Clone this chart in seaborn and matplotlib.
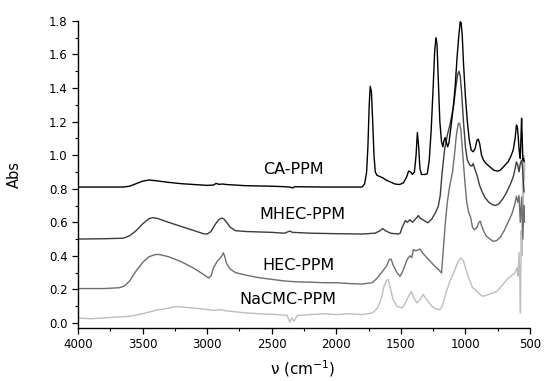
import numpy as np
import pandas as pd
import matplotlib.pyplot as plt
from matplotlib.ticker import MultipleLocator, FormatStrFormatter
import seaborn as sns

# %% spectra (wavenumber in cm-1, absorbance)

ca_wn = [4000, 3800, 3650, 3600, 3550, 3500, 3450, 3400, 3300, 3200, 3100, 3000, 2950, 2930, 2910,
         2880, 2850, 2700, 2500, 2400, 2360, 2340, 2320, 2100, 1900, 1800, 1780, 1765, 1755, 1745,
         1737, 1728, 1718, 1708, 1698, 1685, 1670, 1655, 1640, 1610, 1580, 1545, 1510, 1480, 1455,
         1440, 1425, 1410, 1395, 1382, 1372, 1362, 1352, 1340, 1310, 1295, 1280, 1265, 1250, 1238,
         1228, 1220, 1210, 1198, 1185, 1175, 1165, 1157, 1148, 1138, 1128, 1110, 1095, 1080, 1065,
         1050, 1040, 1033, 1025, 1015, 1000, 985, 970, 955, 940, 925, 910, 900, 890, 875,
         860, 840, 810, 780, 750, 730, 700, 670, 650, 630, 615, 605, 598, 592, 586,
         580, 575, 570, 565, 560, 555, 550, 545]
ca_abs = [0.81, 0.81, 0.81, 0.815, 0.83, 0.845, 0.852, 0.848, 0.838, 0.83, 0.825, 0.82, 0.822, 0.832, 0.826,
          0.828, 0.825, 0.818, 0.815, 0.812, 0.81, 0.805, 0.812, 0.81, 0.81, 0.81, 0.83, 0.9, 1.05, 1.3,
          1.41, 1.38, 1.2, 1.0, 0.9, 0.88, 0.875, 0.87, 0.865, 0.85, 0.84, 0.828, 0.825, 0.835, 0.87,
          0.905, 0.9, 0.885, 0.9, 1.0, 1.135, 1.05, 0.92, 0.885, 0.885, 0.89, 0.97, 1.15, 1.4, 1.62,
          1.70, 1.66, 1.45, 1.2, 1.08, 1.05, 1.09, 1.105, 1.08, 1.05, 1.07, 1.18, 1.28, 1.4, 1.58,
          1.72, 1.795, 1.79, 1.72, 1.55, 1.35, 1.2, 1.09, 1.03, 1.02, 1.04, 1.09, 1.095, 1.07, 1.0,
          0.97, 0.95, 0.93, 0.91, 0.905, 0.91, 0.935, 0.96, 0.99, 1.03, 1.1, 1.18, 1.17, 1.12, 1.05,
          1.0, 0.98, 1.1, 1.22, 1.1, 0.97, 0.98, 0.96]

mhec_wn = [4000, 3800, 3650, 3600, 3550, 3500, 3450, 3420, 3380, 3300, 3200, 3100, 3030, 3000, 2970,
           2940, 2910, 2890, 2870, 2850, 2820, 2780, 2700, 2500, 2400, 2360, 2340, 2200, 2000, 1800,
           1700, 1660, 1640, 1620, 1580, 1520, 1505, 1490, 1465, 1450, 1430, 1410, 1380, 1365, 1350,
           1320, 1290, 1260, 1230, 1210, 1195, 1180, 1160, 1140, 1120, 1106, 1090, 1075, 1060, 1050,
           1040, 1030, 1015, 1000, 985, 965, 950, 940, 930, 910, 890, 870, 850, 820, 790,
           770, 740, 710, 680, 650, 630, 615, 605, 595, 585, 575, 565, 558, 550, 545]
mhec_abs = [0.50, 0.502, 0.505, 0.52, 0.55, 0.59, 0.622, 0.628, 0.622, 0.6, 0.575, 0.55, 0.532, 0.53, 0.545,
            0.585, 0.615, 0.625, 0.62, 0.6, 0.57, 0.55, 0.545, 0.54, 0.535, 0.548, 0.54, 0.535, 0.532, 0.53,
            0.535, 0.55, 0.563, 0.55, 0.535, 0.53, 0.535, 0.57, 0.61, 0.60, 0.615, 0.6, 0.625, 0.64, 0.625,
            0.61, 0.597, 0.62, 0.66, 0.696, 0.76, 0.9, 1.04, 1.12, 1.18, 1.235, 1.3, 1.4, 1.48, 1.50,
            1.47, 1.38, 1.2, 1.05, 0.97, 0.94, 0.935, 0.95, 0.925, 0.88, 0.82, 0.78, 0.75, 0.72, 0.705,
            0.70, 0.71, 0.74, 0.78, 0.83, 0.87, 0.92, 0.96, 0.94, 0.90, 0.95, 0.97, 0.93, 0.82, 0.78]

hec_wn = [4000, 3800, 3680, 3640, 3600, 3550, 3500, 3450, 3400, 3370, 3300, 3200, 3100, 3030, 2990,
          2970, 2950, 2920, 2900, 2885, 2875, 2865, 2850, 2820, 2780, 2700, 2600, 2500, 2400, 2300,
          2200, 2100, 2000, 1900, 1800, 1720, 1680, 1640, 1610, 1590, 1575, 1560, 1530, 1506, 1490,
          1470, 1450, 1430, 1415, 1403, 1385, 1365, 1351, 1335, 1300, 1273, 1240, 1210, 1185, 1170,
          1155, 1140, 1125, 1110, 1100, 1085, 1070, 1055, 1045, 1035, 1020, 1005, 990, 975, 960,
          945, 930, 910, 895, 885, 875, 860, 840, 810, 785, 760, 730, 700, 670, 640,
          620, 605, 595, 585, 575, 565, 555, 548, 542]
hec_abs = [0.205, 0.205, 0.21, 0.22, 0.25, 0.31, 0.36, 0.395, 0.408, 0.408, 0.395, 0.365, 0.325, 0.29, 0.268,
           0.28, 0.33, 0.37, 0.385, 0.40, 0.418, 0.40, 0.355, 0.32, 0.30, 0.285, 0.27, 0.26, 0.25, 0.245,
           0.243, 0.24, 0.24, 0.235, 0.232, 0.24, 0.27, 0.31, 0.34, 0.378, 0.38, 0.345, 0.3, 0.278, 0.3,
           0.34, 0.38, 0.40, 0.39, 0.437, 0.43, 0.435, 0.441, 0.42, 0.39, 0.368, 0.34, 0.32, 0.298, 0.45,
           0.6, 0.72, 0.8, 0.86, 0.9, 1.0, 1.12, 1.19, 1.19, 1.15, 1.0, 0.85, 0.72, 0.66, 0.63,
           0.57, 0.555, 0.57, 0.6, 0.607, 0.58, 0.55, 0.52, 0.5, 0.487, 0.49, 0.51, 0.55, 0.6, 0.65,
           0.7, 0.755, 0.72, 0.76, 0.6, 0.75, 0.5, 0.7, 0.6]

nacmc_wn = [4000, 3900, 3800, 3700, 3600, 3500, 3400, 3300, 3240, 3150, 3050, 2950, 2900, 2850, 2700,
            2600, 2450, 2380, 2360, 2345, 2330, 2300, 2200, 2100, 2000, 1900, 1800, 1720, 1680, 1650,
            1630, 1610, 1597, 1585, 1560, 1530, 1493, 1470, 1440, 1418, 1400, 1375, 1350, 1328, 1300,
            1260, 1230, 1200, 1180, 1150, 1120, 1090, 1060, 1035, 1015, 995, 970, 945, 925, 900,
            880, 861, 840, 800, 757, 720, 679, 640, 615, 600, 592, 585, 578, 574, 568,
            562, 556, 552, 548, 544, 540]
nacmc_abs = [0.03, 0.025, 0.03, 0.035, 0.04, 0.055, 0.075, 0.088, 0.098, 0.092, 0.085, 0.075, 0.08, 0.072, 0.06,
             0.055, 0.05, 0.045, 0.005, 0.03, 0.01, 0.045, 0.05, 0.055, 0.05, 0.055, 0.05, 0.06, 0.09, 0.15,
             0.22, 0.255, 0.258, 0.22, 0.14, 0.10, 0.089, 0.11, 0.16, 0.188, 0.15, 0.119, 0.14, 0.169, 0.14,
             0.1, 0.085, 0.079, 0.1, 0.18, 0.25, 0.3, 0.36, 0.388, 0.37, 0.318, 0.26, 0.21, 0.199, 0.18,
             0.165, 0.159, 0.165, 0.175, 0.188, 0.22, 0.258, 0.285, 0.298, 0.33, 0.28, 0.42, 0.25, 0.06, 0.55,
             0.4, 0.98, 0.6, 1.0, 0.85, 0.95]

names = ['CA-PPM', 'MHEC-PPM', 'HEC-PPM', 'NaCMC-PPM']
colors = ['#000000', '#3c3c3c', '#6e6e6e', '#bdbdbd']
label_wn = [2335, 2263, 2294, 2371]
label_abs = [0.915, 0.646, 0.344, 0.139]

spectra = {
    'CA-PPM': (ca_wn, ca_abs),
    'MHEC-PPM': (mhec_wn, mhec_abs),
    'HEC-PPM': (hec_wn, hec_abs),
    'NaCMC-PPM': (nacmc_wn, nacmc_abs),
}

# %% plot

sns.set_style('ticks', {'axes.edgecolor': 'black', 'xtick.color': 'black',
                        'ytick.color': 'black', 'text.color': 'black',
                        'axes.labelcolor': 'black'})
plt.rcParams['font.family'] = ['DejaVu Sans']

fig = plt.figure(figsize=(5.5, 3.81), dpi=100)
ax = fig.add_axes([0.1418, 0.1391, 0.8218, 0.806])

# draw lightest first so the darker traces sit on top
for name, col in list(zip(names, colors))[::-1]:
    wn, ab = spectra[name]
    df = pd.DataFrame({'wn': wn, 'abs': ab})
    sns.lineplot(data=df, x='wn', y='abs', color=col, linewidth=1.0,
                 estimator=None, sort=False, ax=ax)

for name, xw, ya in zip(names, label_wn, label_abs):
    ax.text(xw, ya, name, ha='center', va='center', fontsize=11.5)

ax.set_xlim(4000, 500)
ax.set_ylim(-0.03, 1.8)
ax.xaxis.set_major_locator(MultipleLocator(500))
ax.xaxis.set_minor_locator(MultipleLocator(250))
ax.yaxis.set_major_locator(MultipleLocator(0.2))
ax.yaxis.set_minor_locator(MultipleLocator(0.1))
ax.yaxis.set_major_formatter(FormatStrFormatter('%.1f'))
ax.tick_params(which='major', direction='out', length=4, width=0.9, labelsize=8.5)
ax.tick_params(which='minor', direction='out', length=2.5, width=0.8)
for sp in ['left', 'bottom']:
    ax.spines[sp].set_linewidth(1.0)
sns.despine(ax=ax)

ax.set_xlabel('ν (cm$^{-1}$)', fontsize=11)
ax.set_ylabel('Abs', fontsize=10.5)
ax.xaxis.set_label_coords(0.498, -0.098)
ax.yaxis.set_label_coords(-0.124, 0.5)

plt.savefig('out.png', dpi=100)
